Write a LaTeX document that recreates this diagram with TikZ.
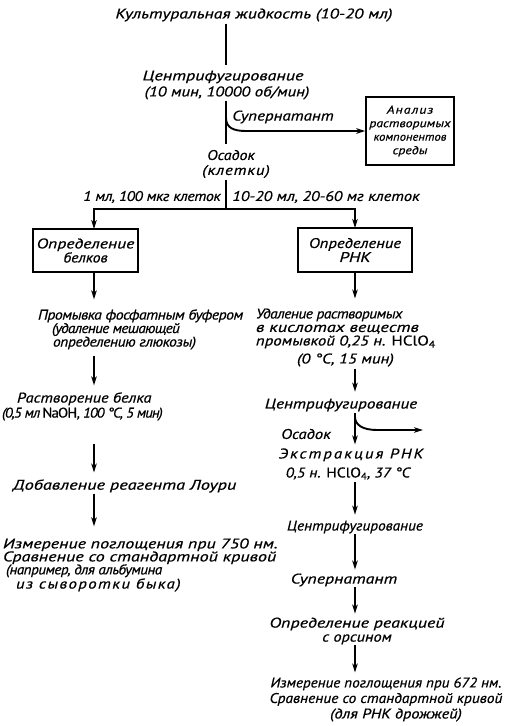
\documentclass[tikz,border=0pt]{standalone}
\usepackage{fontspec}
\usepackage{graphicx}
\usetikzlibrary{arrows.meta,calc}
\newfontfamily\hand{PT Sans}[FakeStretch=1.2,FakeBold=0.6]
\newcommand{\hcl}{\textup{HClO\textsubscript{4}}}
\newcommand{\sx}[2]{\scalebox{#1}[1]{#2}}
\newcommand{\ls}[2]{{\addfontfeature{LetterSpace=#1}#2}}
\newcommand{\sls}[3]{\scalebox{#1}[1]{\addfontfeature{LetterSpace=#2}#3}}
\begin{document}
\begin{tikzpicture}[x=1pt,y=-1pt,
  txt/.style={font=\hand\itshape\fontsize{14}{14}\selectfont, inner sep=0pt, outer sep=0pt},
  smalltxt/.style={font=\hand\itshape\fontsize{11.5}{13.5}\selectfont},
  boxed/.style={draw, line width=1.4pt, inner sep=2pt},
  ln/.style={line width=2.5pt},
  arr/.style={line width=2.2pt, -{Stealth[length=9pt,width=5.5pt,inset=2.5pt]}}
]
\useasboundingbox (0,0) rectangle (505,726);
\coordinate (cL) at (94,0);
\coordinate (cM) at (226,0);
\coordinate (cR) at (355,0);

\node[txt] (title) at (254,15) {\sx{1.054}{Культуральная жидкость (10-20 мл)}};
\node[txt, align=center, font=\hand\itshape\fontsize{14}{16}\selectfont] (cf1) at (227,85) {\sx{1.077}{Центрифугирование}\hspace*{8pt}\\\sx{1.0}{(10 мин, 10000 об/мин)}};
\node[boxed, smalltxt, align=center, minimum width=88pt, minimum height=68pt] (box1) at (410,131) {\ls{9}{Анализ}\\\sx{1.0}{растворимых}\\\sx{0.91}{компонентов}\\\sx{1.0}{среды}};
\node[txt] (sup1) at (283,117) {\sx{1.01}{Супернатант}};
\node[txt, align=center, font=\hand\itshape\fontsize{14}{15}\selectfont] (osad1) at (232,164) {\sx{0.95}{Осадок}\hspace*{2pt}\\\ls{6}{(клетки)}\hspace*{-8pt}};
\node[txt] (lab1) at (152,197) {\sls{0.94}{-3}{1 мл, 100 мкг клеток}};
\node[txt] (lab2) at (326,197) {\sx{0.98}{10-20 мл, 20-60 мг клеток}};
\node[boxed, txt, inner sep=2pt, align=center, minimum width=105pt, minimum height=43pt] (boxL) at (85.5,250.5) {\sx{1.05}{Определение}\\\sx{0.93}{белков}};
\node[boxed, txt, inner sep=2pt, align=center, minimum width=114pt, minimum height=44pt] (boxR) at (355,250) {\sx{0.99}{Определение}\\\sx{1.06}{РНК}};

% left column
\node[txt, align=left, anchor=west, font=\hand\itshape\fontsize{14}{13.5}\selectfont] (wash) at (38,329.5) {\sls{0.94}{-4}{Промывка фосфатным буфером}\\\hspace*{14pt}\sls{0.9}{-5}{(удаление мешающей}\\\hspace*{15pt}\sls{0.92}{-3}{определению глюкозы)}};
\node[txt, align=left, anchor=west, font=\hand\itshape\fontsize{14}{15}\selectfont] (diss) at (2,406.5) {\hspace*{15pt}\sx{0.97}{Растворение белка}\\\sls{0.88}{-7}{(0,5 мл \textup{NaOH}, 100 °C, 5 мин)}};
\node[txt, anchor=west] (lowry) at (13,486) {\sx{1.09}{Добавление реагента Лоури}};
\node[txt, align=left, anchor=west, font=\hand\itshape\fontsize{14}{13}\selectfont] (meas1) at (3,565) {\sx{1.07}{Измерение поглощения при 750 нм.}\\\sx{1.08}{Сравнение со стандартной кривой}\\\hspace*{3pt}\sls{0.9}{-4}{(например, для альбумина}\\\hspace*{13pt}\ls{10}{из сыворотки быка)}};

% right column
\node[txt, align=left, anchor=west, font=\hand\itshape\fontsize{14}{13.5}\selectfont] (rem) at (256,337.5) {\sls{0.92}{-4}{Удаление растворимых}\\\sx{1.09}{в кислотах веществ}\\\sx{1.0}{промывкой 0,25 н. \hcl}\\[4.5pt]\hspace*{41pt}\sx{1.01}{(0 °C, 15 мин)}};
\node[txt] (cf2) at (341,405) {\sx{1.02}{Центрифугирование}};
\node[txt] (osad2) at (306,434) {\sx{0.99}{Осадок}};
\node[txt, align=center, font=\hand\itshape\fontsize{14}{19}\selectfont] (extr) at (351,464) {\ls{14.5}{Экстракция РНК}\\\hspace*{-6pt}\sx{0.93}{0,5 н. \hcl, 37 °C}};
\node[txt] (cf3) at (355,527) {\sx{0.91}{Центрифугирование}};
\node[txt] (sup2) at (344,580) {\sx{1.06}{Супернатант}};
\node[txt, align=center] (orc) at (357,631) {\sx{1.07}{Определение реакцией}\\\sx{0.97}{с орсином}};
\node[txt, align=center, font=\hand\itshape\fontsize{14}{15.5}\selectfont] (meas2) at (386,699.5) {\sx{0.9}{Измерение поглощения при 672 нм.}\\\sx{0.92}{Сравнение со стандартной кривой}\hspace*{10pt}\\\hspace*{20pt}\sx{0.97}{(для РНК дрожжей)}};

% connectors top
\draw[ln, shorten <=2pt, shorten >=6pt] (title.south -| cM) -- (cf1.north -| cM);
\draw[ln, shorten <=2pt, shorten >=6pt] (cf1.south -| cM) -- (osad1.north -| cM);
\coordinate (sp) at (226,118);
\draw[arr, line width=1.9pt] (sp) .. controls +(0,10) and +(-12,0) .. ($(sp |- box1.west)+(20,0)$) -- (box1.west);
\coordinate (jn) at (226,209);
\draw[ln, shorten <=2pt] (osad1.south -| cM) -- (jn);
\draw[arr] (jn) -| (cL |- boxL.north);
\draw[arr] (jn) -| (cR |- boxR.north);

% left connectors
\draw[arr, shorten >=10pt] (cL |- boxL.south) -- (cL |- wash.north);
\draw[arr, shorten <=6pt, shorten >=7pt] (cL |- wash.south) -- (cL |- diss.north);
\draw[arr, shorten <=23pt, shorten >=7pt] (cL |- diss.south) -- (cL |- lowry.north);
\draw[arr, shorten <=1pt, shorten >=12pt] (cL |- lowry.south) -- (cL |- meas1.north);

% right connectors
\draw[arr, shorten >=10pt] (cR |- boxR.south) -- (cR |- rem.north);
\draw[arr, shorten <=2pt, shorten >=7pt] (cR |- rem.south) -- (cR |- cf2.north);
\draw[arr, shorten <=2pt, shorten >=4pt] (cR |- cf2.south) -- (cR |- extr.north);
\coordinate (sp2) at (355,417);
\coordinate (end2) at (423,430);
\draw[arr, line width=1.9pt] (sp2) .. controls +(0,8) and +(-14,0) .. ($(sp2 |- end2)+(22,0)$) -- (end2);
\draw[arr, shorten <=2pt, shorten >=6pt] (cR |- extr.south) -- (cR |- cf3.north);
\draw[arr, shorten <=1pt, shorten >=4pt] (cR |- cf3.south) -- (cR |- sup2.north);
\draw[arr, shorten <=1pt, shorten >=4pt] (cR |- sup2.south) -- (cR |- orc.north);
\draw[arr, shorten <=1pt, shorten >=5pt] (cR |- orc.south) -- (cR |- meas2.north);
\end{tikzpicture}
\end{document}
